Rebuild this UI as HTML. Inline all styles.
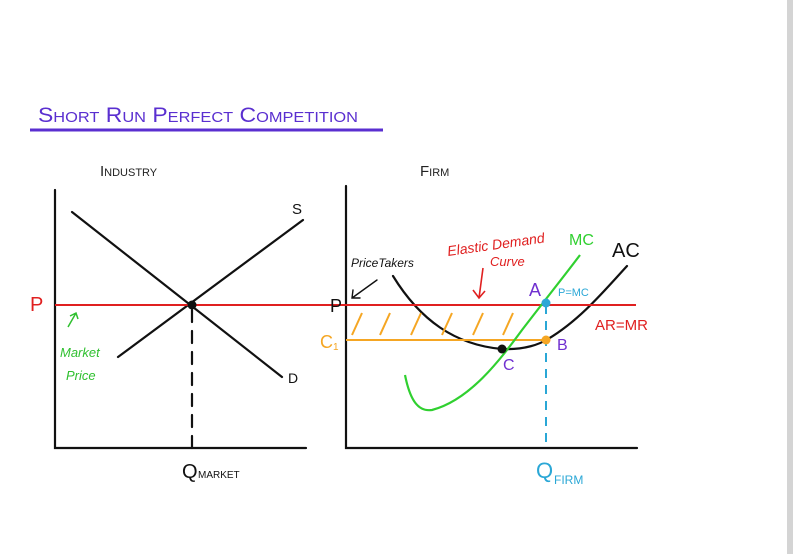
<!DOCTYPE html>
<html><head><style>
body{margin:0;width:793px;height:554px;background:#fff;overflow:hidden;position:relative}
svg{position:absolute;left:0;top:0}
text{font-family:"Liberation Sans",sans-serif}
</style></head><body>
<svg width="793" height="554" viewBox="0 0 793 554">
<rect x="787" y="0" width="6" height="554" fill="#d4d4d4"/>
<text x="38" y="122" font-size="21" fill="#5a2fd0" font-variant="small-caps" textLength="320" lengthAdjust="spacingAndGlyphs">Short Run  Perfect Competition</text>
<line x1="30" y1="130" x2="383" y2="130" stroke="#5a2fd0" stroke-width="3"/>
<text x="100" y="176" font-size="15" fill="#222" font-variant="small-caps">Industry</text>
<text x="420" y="176" font-size="15" fill="#222" font-variant="small-caps">Firm</text>
<g stroke="#111" stroke-width="2.2" fill="none" stroke-linecap="round">
<polyline points="55,190 55,448 306,448"/>
<line x1="118" y1="357" x2="303" y2="220"/>
<line x1="72" y1="212" x2="282" y2="377"/>
<line x1="192" y1="310" x2="192" y2="448" stroke-dasharray="12,9"/>
<polyline points="346,186 346,448 637,448"/>
<path d="M393,276 C420,320 455,345 502,349 C525,350 540,344 548,339 C580,320 605,290 627,266"/>
<path d="M377,280 L352,298 M353,290 L352,298 L360,298" stroke-width="1.4"/>
</g>
<line x1="55" y1="305" x2="636" y2="305" stroke="#e02020" stroke-width="2"/>
<circle cx="192" cy="305" r="4.5" fill="#111"/>
<text x="292" y="214" font-size="15" fill="#111">S</text>
<text x="288" y="383" font-size="14" fill="#111">D</text>
<text x="30" y="311" font-size="20" fill="#e02020">P</text>
<path d="M68,327 L76,313 M70,316 L76,313 L78,319" stroke="#30c030" stroke-width="1.5" fill="none"/>
<text x="60" y="357" font-size="13" fill="#30c030" font-style="italic">Market</text>
<text x="66" y="380" font-size="13" fill="#30c030" font-style="italic">Price</text>
<text x="182" y="478" font-size="20" fill="#111">Q</text><text x="198" y="478" font-size="10" fill="#111">MARKET</text>
<g stroke="#f5a623" stroke-width="2">
<line x1="346" y1="340" x2="546" y2="340"/>
<line x1="352" y1="335" x2="362" y2="313"/><line x1="380" y1="335" x2="390" y2="313"/><line x1="411" y1="335" x2="421" y2="313"/><line x1="442" y1="335" x2="452" y2="313"/><line x1="473" y1="335" x2="483" y2="313"/><line x1="503" y1="335" x2="513" y2="313"/>
</g>
<path d="M405,375 C410,400 418,412 432,410 C470,400 500,360 522,330 C545,300 565,275 580,255" stroke="#30d030" stroke-width="2.2" fill="none"/>
<line x1="546" y1="305" x2="546" y2="448" stroke="#2aa7d6" stroke-width="2" stroke-dasharray="9,7"/>
<circle cx="546" cy="303" r="4.5" fill="#2aa7d6"/>
<circle cx="546" cy="340" r="4.5" fill="#f5a623"/>
<circle cx="502" cy="349" r="4.5" fill="#111"/>
<text x="330" y="312" font-size="18" fill="#111">P</text>
<text x="320" y="348" font-size="18" fill="#f5a623">C</text><text x="333" y="350" font-size="10" fill="#f5a623">1</text>
<text x="351" y="267" font-size="12" fill="#111" font-style="italic">PriceTakers</text>
<text x="448" y="256" font-size="14" fill="#e02020" font-style="italic" transform="rotate(-8 448 256)">Elastic Demand</text>
<text x="490" y="266" font-size="13" fill="#e02020" font-style="italic">Curve</text>
<path d="M483,268 L479,298 M473,290 L479,298 L485,291" stroke="#e02020" stroke-width="1.6" fill="none"/>
<text x="569" y="245" font-size="16" fill="#30d030">MC</text>
<text x="612" y="257" font-size="20" fill="#111">AC</text>
<text x="529" y="296" font-size="18" fill="#7030d0">A</text>
<text x="558" y="296" font-size="11" fill="#2aa7d6">P=MC</text>
<text x="595" y="330" font-size="15" fill="#e02020">AR=MR</text>
<text x="557" y="350" font-size="16" fill="#7030d0">B</text>
<text x="503" y="370" font-size="16" fill="#7030d0">C</text>
<text x="536" y="478" font-size="22" fill="#2aa7d6">Q</text><text x="554" y="484" font-size="12" fill="#2aa7d6">FIRM</text>
</svg>
</body></html>
